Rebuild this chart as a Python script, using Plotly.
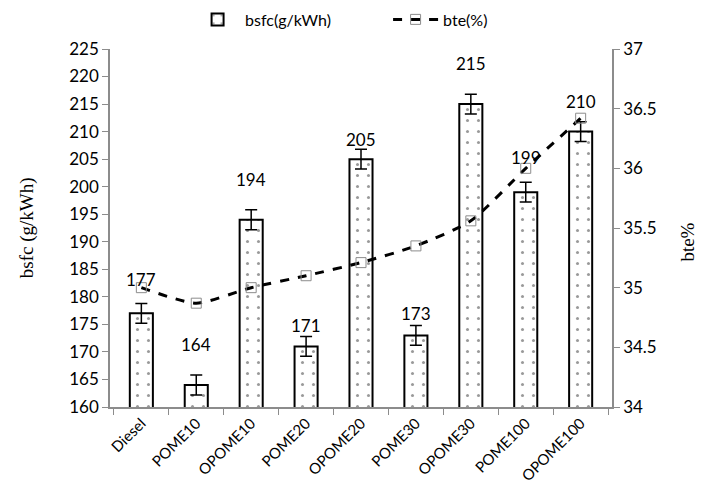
import plotly.graph_objects as go

categories = ["Diesel", "POME10", "OPOME10", "POME20", "OPOME20", "POME30", "OPOME30", "POME100", "OPOME100"]
bsfc = [177, 164, 194, 171, 205, 173, 215, 199, 210]
bsfc_err = [1.8, 1.8, 1.8, 1.8, 1.8, 1.8, 1.8, 1.8, 1.8]
bte = [35.0, 34.87, 35.0, 35.1, 35.21, 35.35, 35.56, 36.0, 36.42]
label_shift = [34, 40, 40, 21, 20, 22, 41, 35, 30]
left_ticks = list(range(160, 226, 5))
right_ticks = [34, 34.5, 35, 35.5, 36, 36.5, 37]

FONT = "Lato"
SERIF = "Liberation Serif"
fig = go.Figure()
fig.add_trace(go.Bar(
    x=categories, y=bsfc, name="bsfc(g/kWh)",
    marker=dict(color="white", line=dict(color="black", width=2),
                pattern=dict(shape=".", fgcolor="#333333", bgcolor="white", size=11, solidity=0.06)),
    error_y=dict(type="data", array=bsfc_err, color="black", thickness=1.5, width=6),
    width=0.42,
))
fig.add_trace(go.Scatter(
    x=categories, y=bte, name="bte(%)", yaxis="y2", mode="lines+markers",
    line=dict(color="black", width=3, dash="dash", shape="spline", smoothing=0.6),
    marker=dict(symbol="square-open", size=10, color="#8c8c8c", line=dict(width=1)),
))
for c, v, s in zip(categories, bsfc, label_shift):
    fig.add_annotation(x=c, y=v, text=str(v), showarrow=False, yshift=s,
                       font=dict(family=FONT, size=17, color="black"), yref="y")

axis_col = "#8c8c8c"
fig.update_layout(
    width=704, height=498,
    margin=dict(l=110, r=92, t=49, b=91, autoexpand=False),
    paper_bgcolor="white", plot_bgcolor="white",
    font=dict(family=FONT, size=16, color="black"),
    showlegend=True,
    legend=dict(orientation="h", x=0.27, xanchor="left", xref="container",
                y=0.995, yanchor="top", yref="container",
                font=dict(family=FONT, size=16), itemwidth=45, entrywidth=138),
    xaxis=dict(showline=True, linecolor=axis_col, linewidth=1.5, ticks="outside",
               tickson="boundaries", tickcolor=axis_col, ticklen=6, tickangle=-45,
               tickfont=dict(size=15), showgrid=False),
    yaxis=dict(range=[160, 225], tickvals=left_ticks, showline=True, linecolor=axis_col,
               linewidth=1.5, ticks="outside", tickcolor=axis_col, ticklen=6,
               showgrid=False, zeroline=False, tickfont=dict(size=17)),
    yaxis2=dict(range=[34, 37], tickvals=right_ticks, overlaying="y", side="right",
                showline=True, linecolor=axis_col, linewidth=1.5, ticks="outside",
                tickcolor=axis_col, ticklen=6, showgrid=False, zeroline=False,
                tickfont=dict(size=17)),
)
fig.add_annotation(text="bsfc (g/kWh)", xref="paper", yref="paper", x=-0.165, y=0.5,
                   textangle=-90, showarrow=False, xanchor="center", yanchor="middle",
                   font=dict(family=SERIF, size=19))
fig.add_annotation(text="bte%", xref="paper", yref="paper", x=1.15, y=0.46,
                   textangle=-90, showarrow=False, xanchor="center", yanchor="middle",
                   font=dict(family=SERIF, size=19))
fig.write_html("out.html")
